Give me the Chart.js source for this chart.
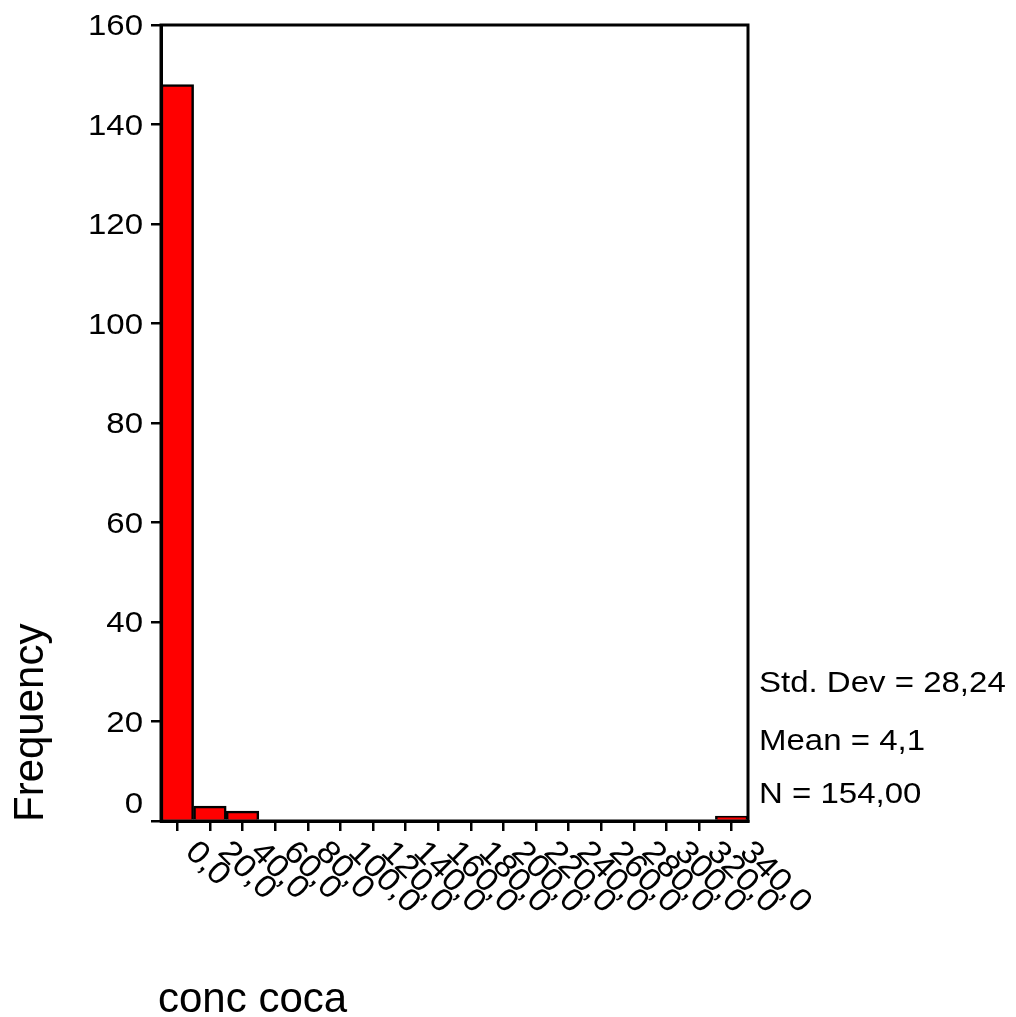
<!DOCTYPE html>
<html>
<head>
<meta charset="utf-8">
<script src="https://cdn.jsdelivr.net/npm/chart.js@4.4.0/dist/chart.umd.min.js"></script>
<style>
  html, body { margin: 0; padding: 0; background: #fff; }
  canvas { display: block; }
</style>
</head>
<body>
<canvas id="histo" width="1016" height="1017"></canvas>
<script>
// datos del histograma
const categorias = ['0,0', '20,0', '40,0', '60,0', '80,0', '100,0', '120,0', '140,0', '160,0',
    '180,0', '200,0', '220,0', '240,0', '260,0', '280,0', '300,0', '320,0', '340,0'];
const frecuencia = [148, 3, 2, 0, 0, 0, 0, 0, 0, 0, 0, 0, 0, 0, 0, 0, 0, 1];
const yMax = 160;
const yPaso = 20;
const tituloY = 'Frequency';
const tituloX = 'conc coca';
const estadisticos = ['Std. Dev = 28,24', 'Mean = 4,1', 'N = 154,00'];

const fuente = '"Liberation Sans", Arial, sans-serif';

// textos dibujados a mano (rotados, etc)
const textos = {
    id: 'textos',
    afterDraw(chart) {
        const ctx = chart.ctx;
        const area = chart.chartArea;
        const xs = chart.scales.x;
        const ys = chart.scales.y;
        ctx.save();
        ctx.fillStyle = '#000';

        // marco del grafico
        ctx.strokeStyle = '#000';
        ctx.lineWidth = 3;
        ctx.strokeRect(area.left, area.top, area.right - area.left, area.bottom - area.top);

        // etiquetas eje y
        ctx.font = '30px ' + fuente;
        ctx.textAlign = 'right';
        ctx.textBaseline = 'middle';
        ys.ticks.forEach(function (t) {
            let y = ys.getPixelForValue(t.value) + 2;
            if (t.value === 0) y -= 18;
            ctx.save();
            ctx.translate(143, y);
            ctx.scale(1.1, 1);
            ctx.fillText(String(t.value), 0, 0);
            ctx.restore();
        });

        // etiquetas eje x giradas
        ctx.font = '32px ' + fuente;
        ctx.textAlign = 'left';
        ctx.textBaseline = 'middle';
        categorias.forEach(function (c, i) {
            const x = xs.getPixelForValue(i);
            ctx.save();
            ctx.translate(x + 13, area.bottom + 26);
            ctx.rotate(Math.PI / 4);
            ctx.scale(1.08, 1);
            ctx.fillText(c, 0, 0);
            ctx.restore();
        });

        // titulo eje y
        ctx.font = '42px ' + fuente;
        ctx.textAlign = 'left';
        ctx.textBaseline = 'alphabetic';
        ctx.save();
        ctx.translate(43, 822);
        ctx.rotate(-Math.PI / 2);
        ctx.fillText(tituloY, 0, 0);
        ctx.restore();

        // titulo eje x
        ctx.fillText(tituloX, 158, 1012);

        // estadisticos
        ctx.font = '30px ' + fuente;
        const bases = [692, 750, 803];
        estadisticos.forEach(function (s, i) {
            ctx.save();
            ctx.translate(759, bases[i]);
            ctx.scale(1.1, 1);
            ctx.fillText(s, 0, 0);
            ctx.restore();
        });
        ctx.restore();
    }
};

const ctx = document.getElementById('histo');

new Chart(ctx, {
    type: 'bar',
    data: {
        labels: categorias,
        datasets: [{
            label: tituloY,
            data: frecuencia,
            backgroundColor: '#ff0000',
            borderColor: '#000',
            borderWidth: 2.5,
            barPercentage: 1,
            categoryPercentage: 1
        }]
    },
    options: {
        responsive: false,
        animation: false,
        devicePixelRatio: 1,
        layout: { padding: { left: 151, top: 25, right: 268, bottom: 186 } },
        plugins: {
            legend: { display: false },
            tooltip: { enabled: false }
        },
        scales: {
            x: {
                ticks: { display: false },
                grid: { offset: false, drawOnChartArea: false, drawTicks: true, tickLength: 10, color: '#000', lineWidth: 2.5 },
                border: { display: true, color: '#000', width: 3 }
            },
            y: {
                min: 0,
                max: yMax,
                ticks: { display: false, stepSize: yPaso },
                grid: { drawOnChartArea: false, drawTicks: true, tickLength: 10, color: '#000', lineWidth: 2.5 },
                border: { display: true, color: '#000', width: 3 }
            }
        }
    },
    plugins: [textos]
});
</script>
</body>
</html>
